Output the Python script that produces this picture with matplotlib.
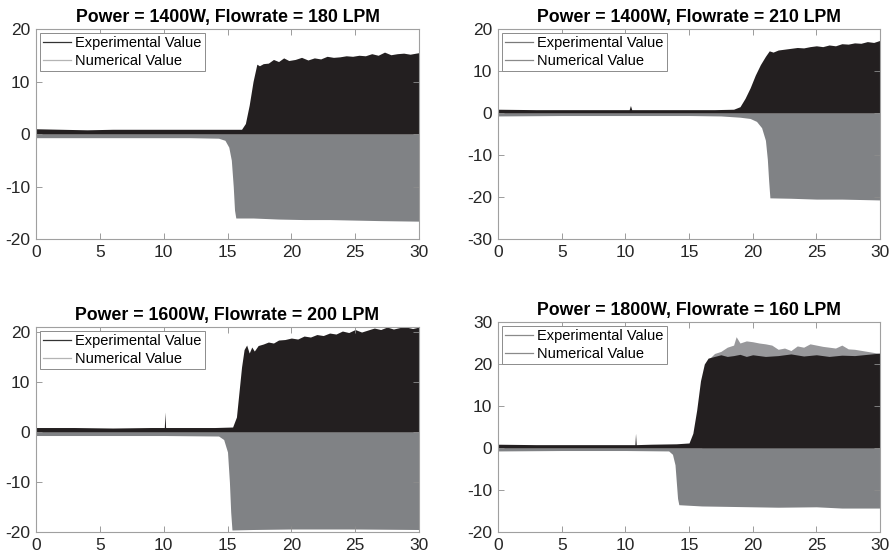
import numpy as np
import matplotlib
matplotlib.use('Agg')
import matplotlib.pyplot as plt

plt.rcParams['font.family'] = ['Liberation Sans', 'DejaVu Sans']
plt.rcParams['axes.unicode_minus'] = False

# NOTE: envelope values (time in s)
titles = ["Power = 1400W, Flowrate = 180 LPM", "Power = 1400W, Flowrate = 210 LPM",
          "Power = 1600W, Flowrate = 200 LPM", "Power = 1800W, Flowrate = 160 LPM"]
ylims = [(-20, 20), (-30, 20), (-20, 21), (-20, 30)]
yticks = [[-20, -10, 0, 10, 20], [-30, -20, -10, 0, 10, 20],
          [-20, -10, 0, 10, 20], [-20, -10, 0, 10, 20, 30]]
xticks = [0, 5, 10, 15, 20, 25, 30]

# experimental value, upper envelope
exp_t = [
    [0, 2, 4, 6, 8, 10, 12, 14, 15.5, 16.1, 16.4, 16.7, 17.0, 17.3, 17.5, 17.8, 18.2, 18.6, 19.0, 19.4,
     19.8, 20.3, 20.8, 21.3, 21.8, 22.3, 22.8, 23.3, 23.8, 24.3, 24.8, 25.3, 25.8, 26.3, 26.8, 27.3,
     27.8, 28.3, 28.8, 29.3, 30],
    [0, 3, 6, 9, 10.3, 10.4, 10.5, 12, 15, 17, 18.5, 19.0, 19.4, 19.8, 20.2, 20.6, 21.0, 21.3, 21.6,
     22, 22.5, 23, 23.5, 24, 24.5, 25, 25.5, 26, 26.5, 27, 27.5, 28, 28.5, 29, 29.5, 30],
    [0, 3, 6, 9, 10.05, 10.1, 10.15, 12, 14, 15.4, 15.7, 15.9, 16.1, 16.3, 16.5, 16.7, 16.9, 17.1,
     17.4, 17.8, 18.2, 18.6, 19.0, 19.5, 20, 20.5, 21, 21.5, 22, 22.5, 23, 23.5, 24, 24.5, 25, 25.5,
     26, 26.5, 27, 27.5, 28, 28.5, 29, 29.5, 30],
    [0, 3, 6, 9, 10.75, 10.8, 10.85, 12, 14, 15.0, 15.3, 15.6, 15.9, 16.2, 16.5, 17, 17.5, 18, 18.5,
     19, 19.5, 20, 21, 22, 23, 24, 25, 26, 27, 28, 29, 30],
]
exp_v = [
    [1.0, 0.9, 0.8, 0.9, 0.9, 0.9, 0.9, 0.9, 0.9, 0.9, 2.0, 5.5, 10.0, 13.3, 13.0, 13.4, 13.5, 14.2,
     13.8, 14.5, 14.0, 14.2, 14.6, 14.1, 14.5, 14.3, 14.8, 14.6, 14.7, 14.9, 14.8, 15.0, 14.9, 15.3,
     15.0, 15.6, 15.1, 15.3, 15.4, 15.2, 15.5],
    [0.9, 0.8, 0.8, 0.8, 0.8, 1.8, 0.8, 0.8, 0.8, 0.8, 0.9, 1.5, 3.5, 6.0, 9.0, 11.5, 13.5, 14.8,
     14.5, 15.0, 15.2, 15.4, 15.6, 15.5, 15.8, 16.0, 15.8, 16.2, 16.0, 16.5, 16.4, 16.7, 16.6, 17.0,
     16.8, 17.3],
    [0.9, 0.9, 0.8, 0.9, 0.9, 4.0, 0.9, 0.9, 0.9, 1.0, 3.0, 8.0, 13.0, 16.5, 17.4, 15.8, 17.0, 16.2,
     17.3, 17.6, 18.0, 17.8, 18.4, 18.5, 18.8, 18.6, 19.2, 19.0, 19.5, 19.3, 19.8, 19.6, 20.2, 19.9,
     20.5, 20.0, 20.4, 20.8, 20.5, 21.0, 20.6, 20.9, 21.0, 20.7, 21.0],
    [0.9, 0.8, 0.8, 0.8, 0.8, 3.5, 0.8, 0.9, 1.0, 1.2, 3.5, 9, 16, 20, 21.4, 21.8, 22.2, 21.8, 22.0,
     22.3, 21.8, 22.2, 21.8, 22.0, 22.4, 21.9, 22.2, 21.8, 22.1, 22.0, 22.3, 22.6],
]

# numerical value, lower envelope
num_t = [
    [0, 3, 6, 9, 12, 14.3, 14.8, 15.1, 15.3, 15.45, 15.55, 15.65, 17, 19, 21, 23, 25, 27, 30],
    [0, 5, 10, 15, 17.5, 19, 19.8, 20.3, 20.7, 21.0, 21.15, 21.25, 21.35, 23, 25, 27, 30],
    [0, 5, 10, 14.3, 14.7, 15.0, 15.15, 15.25, 15.35, 17, 20, 25, 30],
    [0, 5, 10, 13.4, 13.7, 13.9, 14.0, 14.1, 14.2, 16, 18, 20, 22, 25, 27, 30],
]
num_v = [
    [-0.7, -0.7, -0.7, -0.7, -0.7, -0.8, -1.2, -2.5, -5, -10, -14.5, -16.0, -16.0, -16.2, -16.3,
     -16.3, -16.4, -16.5, -16.6],
    [-0.7, -0.6, -0.6, -0.6, -0.7, -1.0, -1.3, -2.0, -3.5, -6.5, -11, -16, -20.2, -20.3, -20.5,
     -20.5, -20.7],
    [-0.7, -0.7, -0.7, -0.8, -1.5, -4, -10, -16, -19.6, -19.5, -19.4, -19.4, -19.5],
    [-0.7, -0.6, -0.6, -0.7, -1.5, -4, -8, -12, -13.5, -13.8, -13.9, -14.0, -14.1, -14.0, -14.3,
     -14.3],
]

# numerical value, upper envelope (only visible in the last panel)
num_up_t = [16, 16.5, 17, 17.5, 18, 18.5, 18.7, 19, 19.5, 20, 20.5, 21, 21.5, 22, 22.5, 23, 23.5,
            24, 24.5, 25, 25.5, 26, 26.5, 27, 27.5, 28, 29, 30]
num_up_v = [0.5, 21, 22.5, 23, 24, 24.5, 26.5, 25, 25.5, 25.3, 25, 24.8, 24.5, 23.5, 23.8, 23.2,
            24.3, 24.0, 24.8, 24.5, 24.2, 24.0, 23.8, 24.5, 23.6, 23.5, 23.0, 22.5]

legend_colors = [['#333333', '#b4b4b4'], ['#7a7a7a', '#8a8a8a'],
                 ['#333333', '#b4b4b4'], ['#8a8a8a', '#8a8a8a']]

EXP_COLOR = '#231f20'
NUM_COLOR = '#808285'

fig = plt.figure(figsize=(8.92, 5.6), dpi=100)
boxes = [[0.0404, 0.5732, 0.4293, 0.375], [0.5583, 0.5732, 0.4283, 0.375],
         [0.0404, 0.05, 0.4293, 0.366], [0.5583, 0.05, 0.4283, 0.375]]

for i in range(4):
    ax = fig.add_axes(boxes[i])
    if i == 3:
        ax.fill_between(num_up_t, 0, num_up_v, color='#98989b', lw=0)
    ax.fill_between(num_t[i], num_v[i], 0, color=NUM_COLOR, lw=0)
    ax.fill_between(exp_t[i], 0, exp_v[i], color=EXP_COLOR, lw=0)

    ax.set_xlim(0, 30)
    ax.set_ylim(*ylims[i])
    ax.set_xticks(xticks)
    ax.set_yticks(yticks[i])
    ax.tick_params(direction='in', top=True, right=True, length=4, width=0.6,
                   color='#8c8c8c', labelsize=12.5, labelcolor='#262626', pad=4)
    for s in ax.spines.values():
        s.set_color('#a0a0a0')
        s.set_linewidth(0.8)
    ax.set_title(titles[i], fontsize=12.8, fontweight='bold', pad=5)

    h1, = ax.plot([], [], color=legend_colors[i][0], lw=0.9)
    h2, = ax.plot([], [], color=legend_colors[i][1], lw=0.9)
    leg = ax.legend([h1, h2], ["Experimental Value", "Numerical Value"], loc='upper left',
                    fontsize=10.5, fancybox=False, framealpha=1, edgecolor='#8c8c8c',
                    borderaxespad=0.3, borderpad=0.2, labelspacing=0.25,
                    handlelength=1.9, handletextpad=0.3)
    leg.get_frame().set_linewidth(0.7)

plt.savefig('out.png', dpi=100)
